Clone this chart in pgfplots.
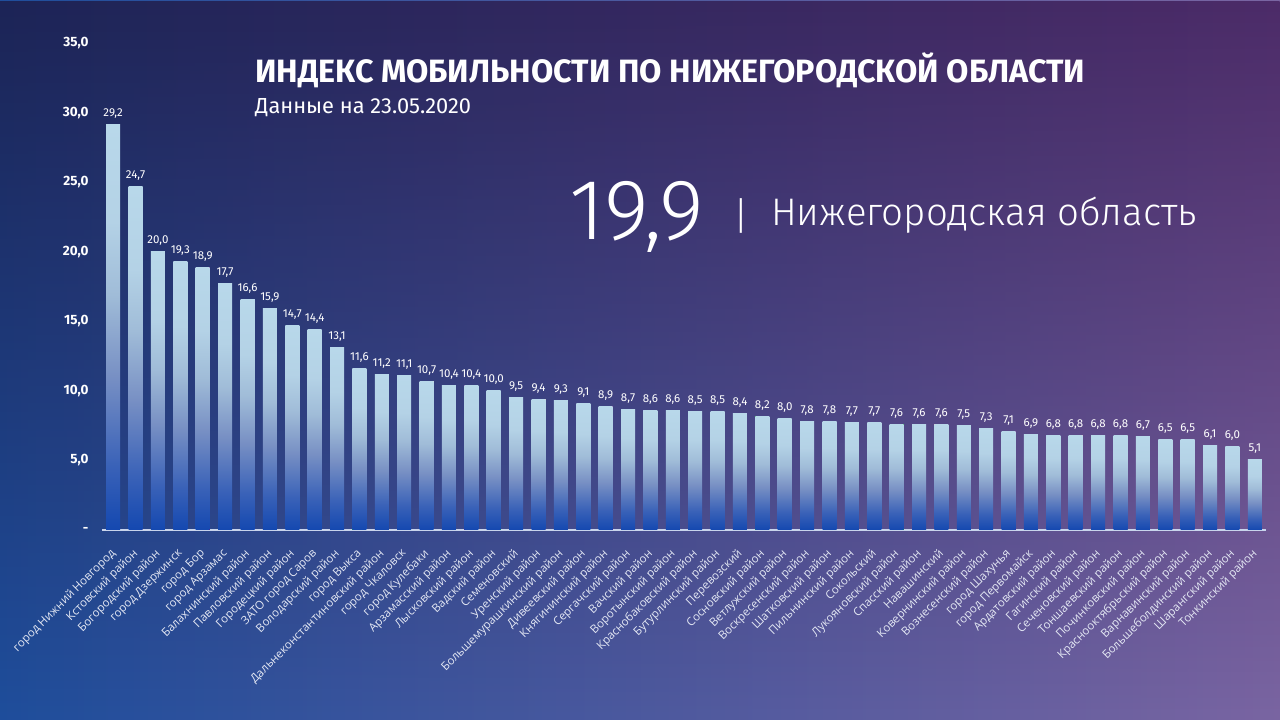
\documentclass[border=0pt]{standalone}
\usepackage{fontspec}
\setmainfont{Fira Sans}
\newfontfamily\opensans{Open Sans}
\newfontfamily\firalight{Fira Sans Light}
\usepackage{pgfplots}
\pgfplotsset{compat=1.18}
\usetikzlibrary{fadings}
\definecolor{bgTL}{HTML}{1C2456}
\definecolor{bgTR}{HTML}{4C2B68}
\definecolor{bgBL}{HTML}{1F4E9C}
\definecolor{bgBR}{HTML}{7A65A2}
\definecolor{barA}{HTML}{1448B0}
\definecolor{barB}{HTML}{3A62B8}
\definecolor{barC}{HTML}{7890C4}
\definecolor{barD}{HTML}{A0BCD8}
\definecolor{barE}{HTML}{B4D2E6}
\definecolor{barF}{HTML}{B8D8EA}
\definecolor{lbl}{HTML}{E4E8F4}
\definecolor{baseln}{HTML}{C8D4EC}
\tikzfading[name=fadedown, top color=transparent!0, bottom color=transparent!100]
\pgfdeclareverticalshading{barshade}{100bp}{color(0bp)=(barA); color(25bp)=(barA); color(33bp)=(barB); color(44bp)=(barC); color(54bp)=(barD); color(63bp)=(barE); color(75bp)=(barF); color(100bp)=(barF)}
\newcommand\titlefont{\fontsize{32.3bp}{40bp}\selectfont\bfseries}
\newcommand\subfont{\fontsize{21.8bp}{24bp}\selectfont}
\newcommand\bigfont{\firalight\fontsize{86bp}{90bp}\selectfont}
\newcommand\regfont{\firalight\fontsize{38.4bp}{46bp}\selectfont}
\newcommand\valfont{\fontsize{11.5bp}{13bp}\selectfont}
\newcommand\ytfont{\fontsize{13.5bp}{15bp}\selectfont\bfseries}
\newcommand\xtfont{\opensans\fontsize{11.5bp}{14bp}\selectfont}
\begin{document}
\begin{tikzpicture}
\useasboundingbox (0,0) rectangle (1280bp,720bp);
\shade[left color=bgBL, right color=bgBR] (0,0) rectangle (1280bp,720bp);
\shade[left color=bgTL, right color=bgTR, path fading=fadedown] (0,0) rectangle (1280bp,720bp);
\begin{axis}[
  at={(102bp,190bp)}, anchor=south west,
  scale only axis, width=1164bp, height=486.5bp,
  xmin=-0.5, xmax=51.5, ymin=0, ymax=35,
  separate axis lines,
  axis x line*=bottom, axis y line*=left,
  x axis line style={draw=baseln, line width=1.5bp, -},
  y axis line style={draw=none},
  tick style={draw=none},
  major tick length=0pt,
  ytick={0,5,10,15,20,25,30,35},
  yticklabels={-,{5,0},{10,0},{15,0},{20,0},{25,0},{30,0},{35,0}},
  y tick label style={font=\ytfont, text=white, anchor=east, xshift=-10bp},
  xtick={0,...,51},
  xticklabels={город Нижний  Новгород,Кстовский район,Богородский район,город Дзержинск,город Бор,город Арзамас,Балахнинский район,Павловский район,Городецкий  район,ЗАТО город Саров,Володарский район,город Выкса,Дальнеконстантиновский район,город Чкаловск,город Кулебаки,Арзамасский район,Лысковский район,Вадский район,Семеновский,Уренский район,Большемурашкинский  район,Дивеевский район,Княгининский  район,Сергачский район,Вачский район,Воротынский район,Краснобаковский район,Бутурлинский  район,Перевозский,Сосновский район,Ветлужский район,Воскресенский район,Шатковский  район,Пильнинский  район,Сокольский,Лукояновский район,Спасский район,Навашинский,Ковернинский  район,Вознесенский район,город Шахунья,город Первомайск,Ардатовский район,Гагинский  район,Сеченовский район,Тоншаевский район,Починковский  район,Краснооктябрьский  район,Варнавинский район,Большеболдинский район,Шарангский район,Тонкинский  район},
  x tick label style={font=\xtfont, text=lbl, rotate=45, anchor=north east, inner sep=1bp, xshift=-14bp, yshift=-9bp},
  ybar, bar width=14bp, bar shift=0pt,
  /pgf/number format/.cd, fixed, fixed zerofill, precision=1, use comma, assume math mode=true,
  /pgfplots/.cd,
  every axis plot/.append style={draw=none, shade, shading=barshade},
  nodes near coords,
  nodes near coords style={font=\valfont, text=white, anchor=base, yshift=8bp, inner sep=0pt},
]
\addplot coordinates {(0,29.2)};
\addplot coordinates {(1,24.7)};
\addplot coordinates {(2,20.0)};
\addplot coordinates {(3,19.3)};
\addplot coordinates {(4,18.9)};
\addplot coordinates {(5,17.7)};
\addplot coordinates {(6,16.6)};
\addplot coordinates {(7,15.9)};
\addplot coordinates {(8,14.7)};
\addplot coordinates {(9,14.4)};
\addplot coordinates {(10,13.1)};
\addplot coordinates {(11,11.6)};
\addplot coordinates {(12,11.2)};
\addplot coordinates {(13,11.1)};
\addplot coordinates {(14,10.7)};
\addplot coordinates {(15,10.4)};
\addplot coordinates {(16,10.4)};
\addplot coordinates {(17,10.0)};
\addplot coordinates {(18,9.5)};
\addplot coordinates {(19,9.4)};
\addplot coordinates {(20,9.3)};
\addplot coordinates {(21,9.1)};
\addplot coordinates {(22,8.9)};
\addplot coordinates {(23,8.7)};
\addplot coordinates {(24,8.6)};
\addplot coordinates {(25,8.6)};
\addplot coordinates {(26,8.5)};
\addplot coordinates {(27,8.5)};
\addplot coordinates {(28,8.4)};
\addplot coordinates {(29,8.2)};
\addplot coordinates {(30,8.0)};
\addplot coordinates {(31,7.8)};
\addplot coordinates {(32,7.8)};
\addplot coordinates {(33,7.7)};
\addplot coordinates {(34,7.7)};
\addplot coordinates {(35,7.6)};
\addplot coordinates {(36,7.6)};
\addplot coordinates {(37,7.6)};
\addplot coordinates {(38,7.5)};
\addplot coordinates {(39,7.3)};
\addplot coordinates {(40,7.1)};
\addplot coordinates {(41,6.9)};
\addplot coordinates {(42,6.8)};
\addplot coordinates {(43,6.8)};
\addplot coordinates {(44,6.8)};
\addplot coordinates {(45,6.8)};
\addplot coordinates {(46,6.7)};
\addplot coordinates {(47,6.5)};
\addplot coordinates {(48,6.5)};
\addplot coordinates {(49,6.1)};
\addplot coordinates {(50,6.0)};
\addplot coordinates {(51,5.1)};
\end{axis}
\node[anchor=base west, inner sep=0pt, text=white, font=\titlefont] at (255bp,637bp) {ИНДЕКС МОБИЛЬНОСТИ ПО НИЖЕГОРОДСКОЙ ОБЛАСТИ};
\node[anchor=base west, inner sep=0pt, text=white, font=\subfont] at (255bp,606bp) {Данные на 23.05.2020};
\node[anchor=base west, inner sep=0pt, text=white, font=\bigfont] at (569bp,480bp) {19,9};
\node[anchor=base west, inner sep=0pt, text=white, font=\regfont] at (733bp,490bp) {|};
\node[anchor=base west, inner sep=0pt, text=white, font=\regfont] at (771bp,494bp) {Нижегородская область};
\end{tikzpicture}
\end{document}
